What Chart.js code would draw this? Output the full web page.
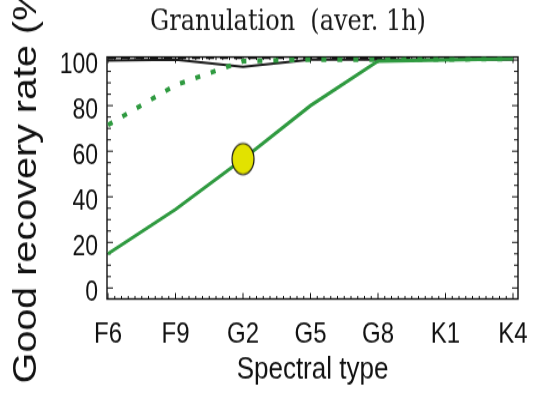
<!DOCTYPE html>
<html><head><meta charset="utf-8">
<script src="https://cdn.jsdelivr.net/npm/chart.js@4.4.1/dist/chart.umd.min.js"></script>
<style>
html,body{margin:0;padding:0;background:#fff;overflow:hidden;}
#wrap{width:538px;height:393px;overflow:hidden;}
#c{display:block;transform:scaleY(1.19817);transform-origin:0 0;}
</style></head><body>
<div id="wrap"><canvas id="c" width="538" height="328"></canvas></div>
<script>
// ---- data ----
const categories  = ['F6','F9','G2','G5','G8','K1','K4'];
const greenSolid  = [15, 34.5, 56.5, 80, 99.5, 100, 100.5];
const greenDotted = [71.5, 89, 99.5, 100.2, 100.2, 100.3, 100.5];
const blackSolid  = [99.8, 100.2, 97, 100.2, 100.2, 100.2, 100.2];
const blackDashed = [100.9, 100.9, 100.9, 100.9, 100.9, 100.9, 100.9];
const markerCat   = ['G2'];
const markerValue = [56.6];
const yTickValues = [0, 20, 40, 60, 80, 100];

const toXY = arr => arr.map((v, i) => ({x: i, y: v}));
const markerData = markerCat.map((c, i) => ({x: categories.indexOf(c), y: markerValue[i]}));

// ellipse marker image
const ell = document.createElement('canvas');
ell.width = 26; ell.height = 30;
(function(){
  const g = ell.getContext('2d');
  g.beginPath();
  g.ellipse(13, 15, 11, 13, 0, 0, Math.PI*2);
  g.fillStyle = '#e2e200'; g.fill();
  g.lineWidth = 1.2; g.strokeStyle = '#111'; g.stroke();
})();

const frame = {
  id: 'frame',
  beforeDatasetsDraw(chart){
    const {ctx, chartArea:{left,right,top,bottom}, scales:{x,y}} = chart;
    ctx.save();
    ctx.strokeStyle = '#111';
    ctx.lineWidth = 1.4;
    ctx.strokeRect(left, top, right-left, bottom-top);
    ctx.lineWidth = 1;
    ctx.beginPath();
    for (let v = 0; v <= 100; v += 5){
      const py = y.getPixelForValue(v);
      const len = v % 20 === 0 ? 6 : 4;
      ctx.moveTo(left, py); ctx.lineTo(left+len, py);
      ctx.moveTo(right, py); ctx.lineTo(right-len, py);
    }
    for (let i = 0; i <= 60; i++){
      const px = x.getPixelForValue(i/10);
      const len = i % 10 === 0 ? 5 : 2.5;
      ctx.moveTo(px, bottom); ctx.lineTo(px, bottom-len);
      ctx.moveTo(px, top); ctx.lineTo(px, top+len);
    }
    ctx.stroke();
    ctx.restore();
  }
};
const shiftTitle = {
  id: 'shiftTitle',
  afterLayout(chart){
    const t = chart.titleBlock;
    if (t){ t.left += 29; t.right += 29; }
  }
};

new Chart(document.getElementById('c'), {
  type: 'line',
  data: {
    datasets: [
      {data: markerData, pointStyle: ell, pointRadius: 13, showLine: false, order: 0},
      {data: toXY(greenSolid), borderColor: '#2f9a40', borderWidth: 3, pointRadius: 0, order: 1},
      {data: toXY(greenDotted), borderColor: '#2f9a40', borderWidth: 4, borderDash: [5, 11], pointRadius: 0, order: 2},
      {data: toXY(blackSolid), borderColor: '#1a1a1a', borderWidth: 2, pointRadius: 0, order: 3},
      {data: toXY(blackDashed), borderColor: '#111', borderWidth: 2, borderDash: [8, 6], pointRadius: 0, order: 4}
    ]
  },
  options: {
    responsive: false,
    animation: false,
    devicePixelRatio: 1,
    layout: {padding: {left: 0, right: 20, top: 0, bottom: 0}},
    plugins: {
      legend: {display: false},
      tooltip: {enabled: false},
      title: {
        display: true,
        text: 'Granulation  (aver. 1h)',
        color: '#1a1a1a',
        font: {family: '"DejaVu Serif", serif', size: 24, weight: 'normal'},
        padding: {top: 4.6, bottom: 14.2}
      }
    },
    scales: {
      x: {
        type: 'linear',
        min: -0.015, max: 6.074,
        grid: {display: false, drawTicks: false},
        border: {display: false},
        afterBuildTicks: s => { s.ticks = categories.map((c, i) => ({value: i})); },
        afterFit: s => { s.height = 78.5; s.paddingLeft = 0; s.paddingRight = 0; },
        ticks: {
          padding: 15,
          color: '#111',
          font: {family: '"Liberation Sans", Arial, sans-serif', size: 24},
          callback: v => categories[v],
          maxRotation: 0, autoSkip: false
        },
        title: {
          display: true, text: 'Spectral type', color: '#111',
          font: {family: '"Liberation Sans", Arial, sans-serif', size: 26},
          padding: {top: 0, bottom: 4}
        }
      },
      y: {
        min: -4.82, max: 101.3,
        grid: {display: false, drawTicks: false},
        border: {display: false},
        afterBuildTicks: s => { s.ticks = yTickValues.map(v => ({value: v})); },
        afterFit: s => { s.width = 107; s.paddingTop = 0; s.paddingBottom = 0; },
        ticks: {
          padding: 9,
          labelOffset: 4.5,
          color: '#111',
          font: {family: '"Liberation Sans", Arial, sans-serif', size: 23}
        },
        title: {
          display: true, text: 'Good recovery rate (%)', color: '#111',
          font: {family: '"Liberation Sans", Arial, sans-serif', size: 33},
          padding: {top: 7, bottom: 0}
        }
      }
    }
  },
  plugins: [frame, shiftTitle]
});
</script>
</body></html>
